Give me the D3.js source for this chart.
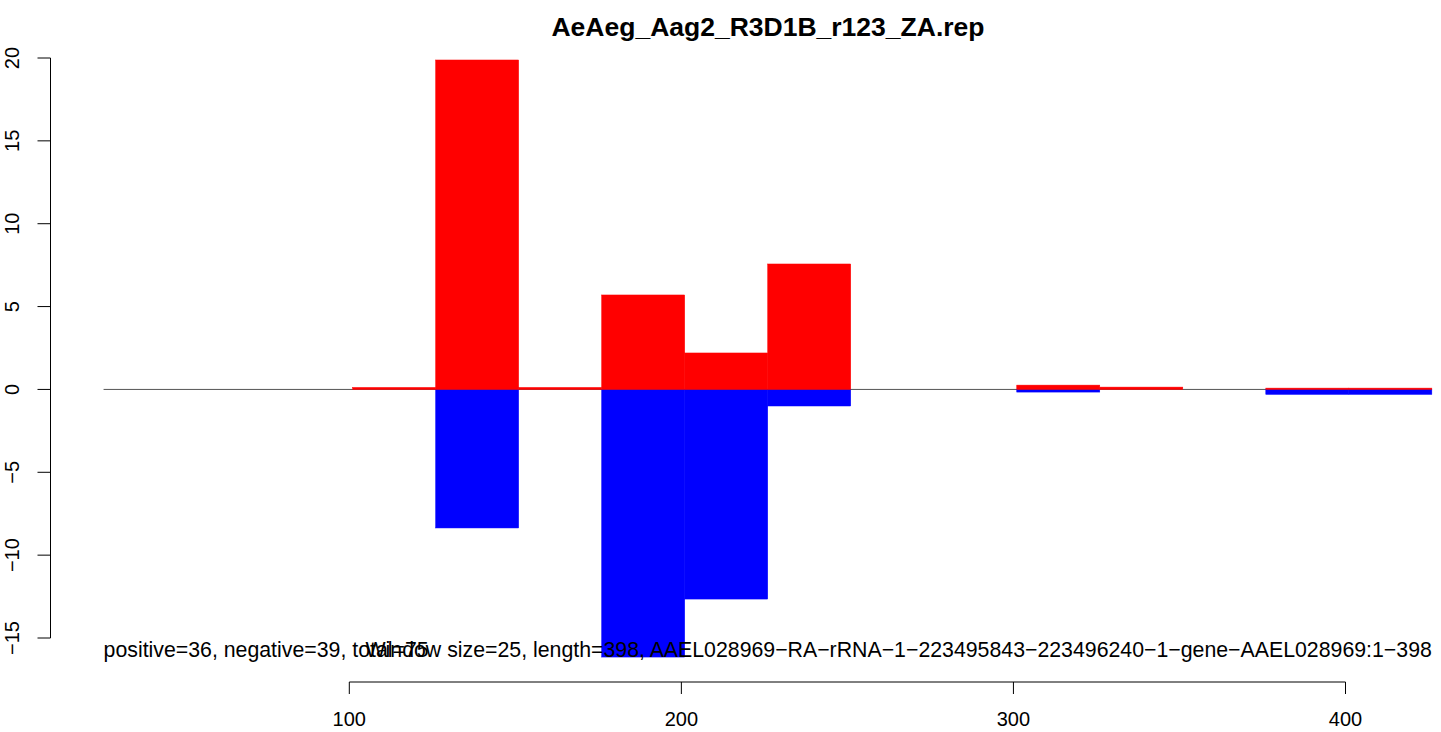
<!DOCTYPE html>
<html><head><meta charset="utf-8">
<script src="https://cdn.jsdelivr.net/npm/d3@7/dist/d3.min.js"></script>
<style>body{margin:0;background:#fff}svg{display:block}text{font-family:"Liberation Sans",Arial,sans-serif}</style>
</head><body>
<script>
const title = "AeAeg_Aag2_R3D1B_r123_ZA.rep";
const windowSize = 25;
const binOffset = 26;
// bin index 0..15, positive (red) and negative (blue) values; null = no bar
const positiveValues = [null, null, null, 0.12, 19.88, 0.12, 5.7, 2.2, 7.57, null, null, 0.26, 0.14, null, 0.08, 0.08];
const negativeValues = [0, null, null, 0, -8.36, null, -16.15, -12.65, -1.0, null, null, -0.16, null, 0, -0.3, -0.3];
const xTicks = [100, 200, 300, 400];
const yTicks = [-15, -10, -5, 0, 5, 10, 15, 20];
const leftNote = "positive=36, negative=39, total=75";
const rightNote = "Window size=25, length=398, AAEL028969\u2212RA\u2212rRNA\u22121\u2212223495843\u2212223496240\u22121\u2212gene\u2212AAEL028969:1\u2212398";

const W = 1441, H = 732;
const svg = d3.select("body").append("svg").attr("width", W).attr("height", H);
const x = d3.scaleLinear().domain([100, 400]).range([349.3, 1345.5]);
const y = d3.scaleLinear().domain([-15, 20]).range([638, 58]);
const fmt = v => (v < 0 ? "\u2212" + Math.abs(v) : String(v));

// zero baseline
svg.append("line")
  .attr("x1", x(binOffset)).attr("x2", x(binOffset + windowSize * positiveValues.length))
  .attr("y1", y(0)).attr("y2", y(0)).attr("stroke", "#555").attr("stroke-width", 1);

function drawBars(vals, color) {
  const data = vals.map((v, i) => ({v, i})).filter(d => d.v !== null);
  svg.append("g").selectAll("rect").data(data).join("rect")
    .attr("x", d => x(binOffset + d.i * windowSize))
    .attr("width", d => x(binOffset + (d.i + 1) * windowSize) - x(binOffset + d.i * windowSize))
    .attr("y", d => Math.min(y(0), y(d.v)))
    .attr("height", d => Math.abs(y(d.v) - y(0)))
    .attr("fill", color).attr("stroke", color).attr("stroke-width", d => d.v === 0 ? 1 : 0.5);
}
drawBars(negativeValues, "#0000FF");
drawBars(positiveValues, "#FF0000");

// y axis
const ya = svg.append("g").attr("transform", "translate(50.5,0)");
ya.append("line").attr("x1", 0).attr("x2", 0).attr("y1", y(20)).attr("y2", y(-15)).attr("stroke", "#000");
ya.selectAll("line.t").data(yTicks).join("line").attr("class", "t")
  .attr("x1", -13).attr("x2", 0).attr("y1", d => y(d)).attr("y2", d => y(d)).attr("stroke", "#000");
ya.selectAll("text").data(yTicks).join("text")
  .attr("transform", d => `translate(-39,${y(d)}) rotate(-90)`)
  .attr("text-anchor", "middle").attr("dy", "0.35em")
  .attr("font-size", 20).text(fmt);

// x axis
const xa = svg.append("g").attr("transform", "translate(0,682)");
xa.append("line").attr("x1", x(100)).attr("x2", x(400)).attr("y1", 0).attr("y2", 0).attr("stroke", "#000");
xa.selectAll("line.t").data(xTicks).join("line").attr("class", "t")
  .attr("x1", d => x(d)).attr("x2", d => x(d)).attr("y1", 0).attr("y2", 12).attr("stroke", "#000");
xa.selectAll("text").data(xTicks).join("text")
  .attr("x", d => x(d)).attr("y", 37).attr("dy", "0.35em")
  .attr("text-anchor", "middle").attr("font-size", 20).text(fmt);

// title
svg.append("text").attr("x", 768).attr("y", 27).attr("dy", "0.35em")
  .attr("text-anchor", "middle").attr("font-weight", "bold").attr("font-size", 26.5).text(title);

// notes (they overlap in the original as well)
svg.append("text").attr("x", x(binOffset)).attr("y", 650).attr("dy", "0.35em")
  .attr("font-size", 21.3).text(leftNote);
svg.append("text").attr("x", x(binOffset + windowSize * positiveValues.length)).attr("y", 650).attr("dy", "0.35em")
  .attr("text-anchor", "end").attr("font-size", 21.3).text(rightNote);
</script>
</body></html>
